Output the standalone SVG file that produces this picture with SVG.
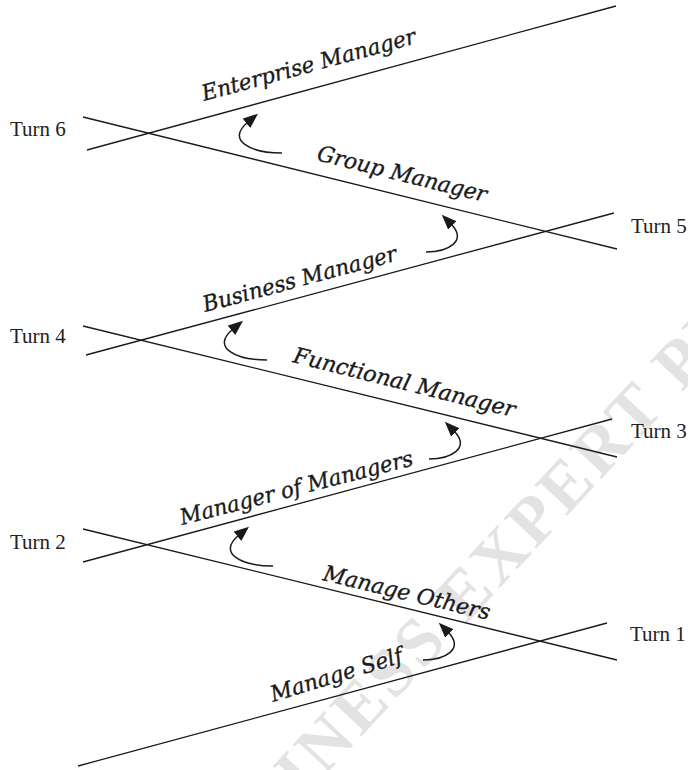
<svg xmlns="http://www.w3.org/2000/svg" width="688" height="770" viewBox="0 0 688 770">
  <style>
    .ln { stroke: #1a1a1a; stroke-width: 1.3; fill: none; }
    .arc { stroke: #1a1a1a; stroke-width: 1.5; fill: none; marker-end: url(#ah); }
    .turn { font-family: "Liberation Serif", "Times New Roman", serif; font-size: 21px; fill: #222; }
    .lbl { font-family: "DejaVu Serif", "Liberation Serif", serif; font-style: italic; font-size: 22px; fill: #1a1a1a; stroke: #1a1a1a; stroke-width: 0.35; }
    .wm { font-family: "Liberation Serif", serif; font-weight: bold; font-size: 68px; letter-spacing: 4px; fill: #e3e3e3; }
  </style>
  <defs>
    <marker id="ah" viewBox="0 0 15 12" refX="2" refY="6" markerWidth="15" markerHeight="12" markerUnits="userSpaceOnUse" orient="auto">
      <path d="M0,0 L15,6 L0,12 Z" fill="#1a1a1a"/>
    </marker>
  </defs>

  <!-- publisher watermark -->
  <g id="watermark">
    <text class="wm" transform="translate(205,904) rotate(-47)">BUSINESS EXPERT PRESS</text>
  </g>

  <!-- zig-zag career path lines -->
  <g id="connectors">
    <line class="ln" x1="87" y1="150" x2="616" y2="6"/>
    <line class="ln" x1="83" y1="117" x2="617" y2="249"/>
    <line class="ln" x1="86" y1="355" x2="614" y2="213"/>
    <line class="ln" x1="83" y1="326" x2="617" y2="457"/>
    <line class="ln" x1="83" y1="562" x2="612" y2="419"/>
    <line class="ln" x1="83" y1="529" x2="617" y2="660"/>
    <line class="ln" x1="78" y1="766" x2="607" y2="623"/>

    <!-- turn arrows -->
    <path class="arc" transform="translate(282,153)" d="M0,0 C-30,0 -57,-12 -34,-31"/>
    <path class="arc" transform="translate(426,252)" d="M0,0 C22,0 42,-11 25,-28"/>
    <path class="arc" transform="translate(267,360)" d="M0,0 C-30,0 -57,-12 -34,-31"/>
    <path class="arc" transform="translate(429,459)" d="M0,0 C22,0 42,-11 25,-28"/>
    <path class="arc" transform="translate(273,566)" d="M0,0 C-30,0 -57,-12 -34,-31"/>
    <path class="arc" transform="translate(423,660)" d="M0,0 C22,0 42,-11 25,-28"/>
  </g>

  <!-- passage labels -->
  <g id="enterprise-manager">
    <text class="lbl" transform="translate(204,101) rotate(-15.2)" textLength="221" lengthAdjust="spacingAndGlyphs">Enterprise Manager</text>
  </g>
  <g id="group-manager">
    <text class="lbl" transform="translate(316,160) rotate(14)" textLength="174" lengthAdjust="spacingAndGlyphs">Group Manager</text>
  </g>
  <g id="business-manager">
    <text class="lbl" transform="translate(205,312) rotate(-15)" textLength="200" lengthAdjust="spacingAndGlyphs">Business Manager</text>
  </g>
  <g id="functional-manager">
    <text class="lbl" transform="translate(292,362) rotate(14)" textLength="228" lengthAdjust="spacingAndGlyphs">Functional Manager</text>
  </g>
  <g id="manager-of-managers">
    <text class="lbl" transform="translate(182,525) rotate(-14.5)" textLength="240" lengthAdjust="spacingAndGlyphs">Manager of Managers</text>
  </g>
  <g id="manage-others">
    <text class="lbl" transform="translate(322,580) rotate(13.5)" textLength="171" lengthAdjust="spacingAndGlyphs">Manage Others</text>
  </g>
  <g id="manage-self">
    <text class="lbl" transform="translate(273,702) rotate(-17)" textLength="137" lengthAdjust="spacingAndGlyphs">Manage Self</text>
  </g>

  <!-- turn markers -->
  <g id="turn-6"><text class="turn" x="10" y="136">Turn 6</text></g>
  <g id="turn-5"><text class="turn" x="631" y="233">Turn 5</text></g>
  <g id="turn-4"><text class="turn" x="10" y="343">Turn 4</text></g>
  <g id="turn-3"><text class="turn" x="631" y="438">Turn 3</text></g>
  <g id="turn-2"><text class="turn" x="10" y="549">Turn 2</text></g>
  <g id="turn-1"><text class="turn" x="630" y="641">Turn 1</text></g>
</svg>
